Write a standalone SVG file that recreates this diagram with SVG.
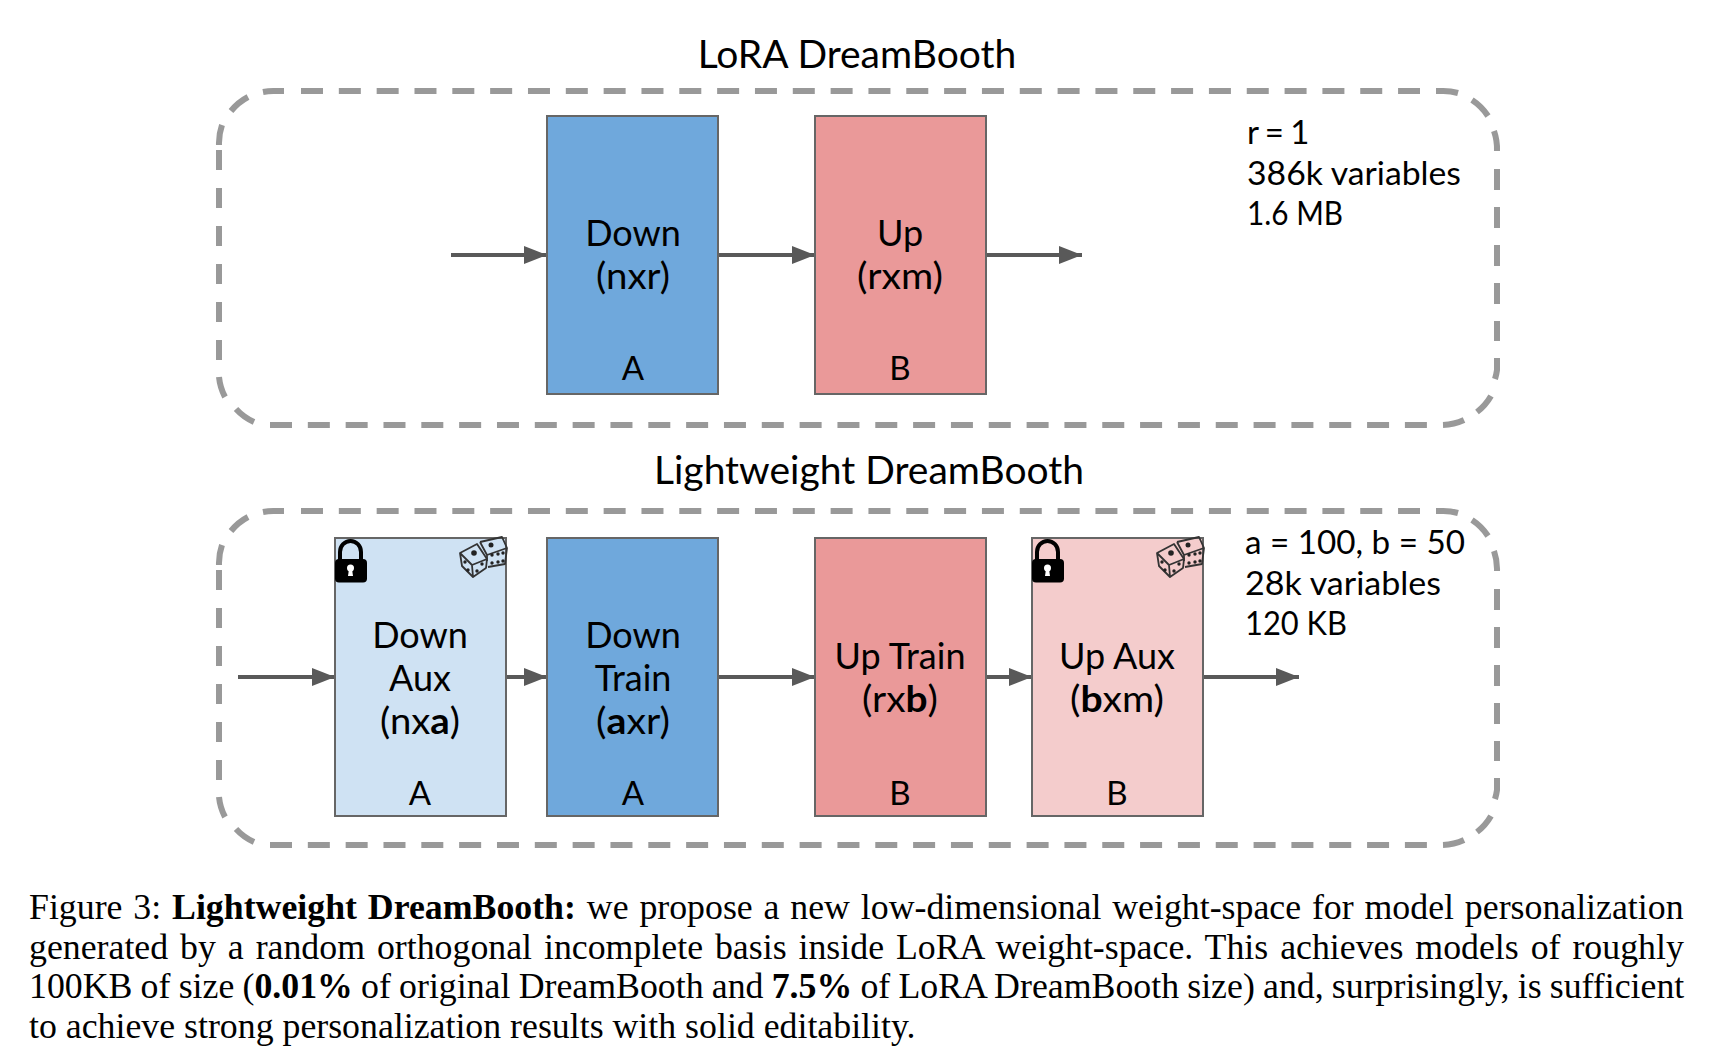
<svg xmlns="http://www.w3.org/2000/svg" width="1734" height="1062" viewBox="0 0 1734 1062">
<style>
text{font-family:"Lato","Open Sans","Liberation Sans",sans-serif;fill:#000}
.t{font-size:36px;text-anchor:middle}
.ti{font-size:39px;text-anchor:middle}
.l{font-size:33px;text-anchor:middle}
.s{font-size:33px}
.c{font-family:"Liberation Serif","Times New Roman",serif;font-size:35.8px}
.h{font-weight:700}
.box{stroke:#666;stroke-width:2}
.blue{fill:#6fa8dc}.red{fill:#ea9999}.lblue{fill:#cfe2f3}.lred{fill:#f4cccc}
.dash{fill:none;stroke:#999;stroke-width:6}
.arr{stroke:#595959;stroke-width:4;fill:none;marker-end:url(#a)}
.die{fill:none;stroke:#333;stroke-width:1.800;stroke-linejoin:round}
</style>
<defs>
<marker id="a" markerUnits="userSpaceOnUse" markerWidth="24" markerHeight="18" refX="23" refY="9" orient="auto"><path d="M0 0L23 9L0 18Z" fill="#595959"/></marker>
<g id="lock"><path d="M6 23V14A10.500 11 0 0 1 27 14V23" fill="none" stroke="#000" stroke-width="4"/><rect x="1" y="21" width="32" height="23.500" rx="4" fill="#000"/><circle cx="16.500" cy="30" r="3.500" fill="#fff"/><path d="M15 31h3l1 7h-5z" fill="#fff"/></g>
<g id="dice"><path class="die" d="M1 16L18 7L28 22L27 31L14 40L3 29Z M1 16L13 28L28 22 M13 28L14 40"/><path class="die" d="M21 5L43 0L48 11L46 27L29 30 M21 5L28 18L48 11 M28 18V24"/><g fill="#222"><circle cx="15" cy="16" r="2.800"/><circle cx="32" cy="8" r="2.500"/><circle cx="6" cy="25" r="1.700"/><circle cx="9" cy="33" r="1.700"/><circle cx="23" cy="27" r="1.700"/><circle cx="18" cy="34" r="1.700"/><circle cx="33" cy="18" r="1.700"/><circle cx="39" cy="17" r="1.700"/><circle cx="44" cy="16" r="1.700"/><circle cx="33" cy="26" r="1.700"/><circle cx="39" cy="25" r="1.700"/><circle cx="44" cy="24" r="1.700"/></g></g>
<g id="frame" class="dash">
<path stroke-dasharray="22 15.830" d="M301 91H1420"/>
<path stroke-dasharray="22 15.830" d="M270 425H1427"/>
<path stroke-dasharray="20 18" d="M219 150V360"/>
<path stroke-dasharray="21 17" d="M1497 169V341"/>
<path d="M284 91H274A55 55 0 0 0 263 92M248 97A55 55 0 0 0 231 111M222 125A55 55 0 0 0 219 145"/>
<path d="M1436 91H1442A55 55 0 0 1 1458 93M1472 100A55 55 0 0 1 1488 116M1494 131A55 55 0 0 1 1497 151"/>
<path d="M219 377A55 55 0 0 0 225 397M236 409A55 55 0 0 0 254 422"/>
<path d="M1497 358V370A55 55 0 0 1 1495 379M1491 396A55 55 0 0 1 1477 412M1464 420A55 55 0 0 1 1443 425"/>
</g>
</defs>
<rect width="1734" height="1062" fill="#fff"/>
<g id="frames"><use href="#frame"/><use href="#frame" y="420"/></g>
<g id="connectors">
<path class="arr" d="M451 255H547"/><path class="arr" d="M718 255H815"/><path class="arr" d="M986 255H1082"/>
<path class="arr" d="M238 677H335"/><path class="arr" d="M506 677H547"/><path class="arr" d="M718 677H815"/><path class="arr" d="M986 677H1032"/><path class="arr" d="M1203 677H1299"/>
</g>
<text id="title1" class="ti" x="857" y="68">LoRA DreamBooth</text>
<text id="title2" class="ti" x="869" y="484">Lightweight DreamBooth</text>
<g id="n1"><rect class="box blue" x="547" y="116" width="171" height="278"/><text class="t" x="633" y="246">Down</text><text class="t" x="633" y="289" textLength="74" lengthAdjust="spacingAndGlyphs">(nxr)</text><text class="l" x="633" y="380">A</text></g>
<g id="n2"><rect class="box red" x="815" y="116" width="171" height="278"/><text class="t" x="900" y="246">Up</text><text class="t" x="900" y="289" textLength="86" lengthAdjust="spacingAndGlyphs">(rxm)</text><text class="l" x="900" y="380">B</text></g>
<g id="info1"><text class="s" x="1247" y="144" word-spacing="-2">r = 1</text><text class="s" x="1247" y="185" textLength="214" lengthAdjust="spacingAndGlyphs">386k variables</text><text class="s" x="1247" y="225" textLength="96" lengthAdjust="spacingAndGlyphs">1.6 MB</text></g>
<g id="n3"><rect class="box lblue" x="335" y="538" width="171" height="278"/><text class="t" x="420" y="648">Down</text><text class="t" x="420" y="691">Aux</text><text class="t" x="420" y="734" textLength="80" lengthAdjust="spacingAndGlyphs">(nx<tspan class="h">a</tspan>)</text><text class="l" x="420" y="805">A</text><use href="#lock" x="334" y="538"/><use href="#dice" x="459" y="537"/></g>
<g id="n4"><rect class="box blue" x="547" y="538" width="171" height="278"/><text class="t" x="633" y="648">Down</text><text class="t" x="633" y="691">Train</text><text class="t" x="633" y="734" textLength="74" lengthAdjust="spacingAndGlyphs">(<tspan class="h">a</tspan>xr)</text><text class="l" x="633" y="805">A</text></g>
<g id="n5"><rect class="box red" x="815" y="538" width="171" height="278"/><text class="t" x="900" y="669">Up Train</text><text class="t" x="900" y="712" textLength="76" lengthAdjust="spacingAndGlyphs">(rx<tspan class="h">b</tspan>)</text><text class="l" x="900" y="805">B</text></g>
<g id="n6"><rect class="box lred" x="1032" y="538" width="171" height="278"/><text class="t" x="1117" y="669">Up Aux</text><text class="t" x="1117" y="712" textLength="94" lengthAdjust="spacingAndGlyphs">(<tspan class="h">b</tspan>xm)</text><text class="l" x="1117" y="805">B</text><use href="#lock" x="1031" y="538"/><use href="#dice" x="1156" y="537"/></g>
<g id="info2"><text class="s" x="1245" y="554" textLength="220" lengthAdjust="spacingAndGlyphs">a = 100, b = 50</text><text class="s" x="1245" y="595" textLength="196" lengthAdjust="spacingAndGlyphs">28k variables</text><text class="s" x="1245" y="635" textLength="102" lengthAdjust="spacingAndGlyphs">120 KB</text></g>
<g id="caption">
<text class="c" x="29" y="919" word-spacing="1.900">Figure 3: <tspan font-weight="700">Lightweight DreamBooth:</tspan> we propose a new low-dimensional weight-space for model personalization</text>
<text class="c" x="29" y="959" word-spacing="3">generated by a random orthogonal incomplete basis inside LoRA weight-space. This achieves models of roughly</text>
<text class="c" x="29" y="998" word-spacing="-0.750">100KB of size (<tspan font-weight="700">0.01%</tspan> of original DreamBooth and <tspan font-weight="700">7.5%</tspan> of LoRA DreamBooth size) and, surprisingly, is sufficient</text>
<text class="c" x="29" y="1038">to achieve strong personalization results with solid editability.</text>
</g>
</svg>
